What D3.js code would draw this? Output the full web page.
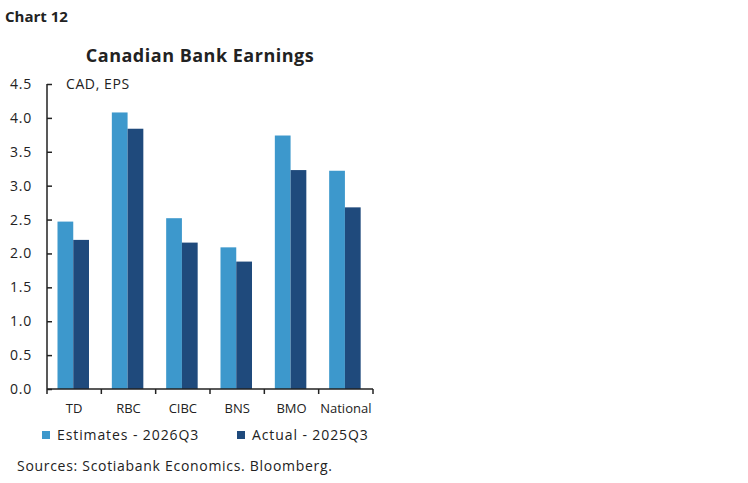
<!DOCTYPE html>
<html>
<head>
<meta charset="utf-8">
<script src="https://cdn.jsdelivr.net/npm/d3@7"></script>
<style>
  body { margin: 0; background: #fff; }
  text { font-family: "Open Sans", Lato, sans-serif; fill: #222; }
</style>
</head>
<body>
<div id="chart"></div>
<script>
const banks = ["TD", "RBC", "CIBC", "BNS", "BMO", "National"];
const estimates = [2.47, 4.08, 2.52, 2.09, 3.74, 3.22];
const actual = [2.20, 3.84, 2.16, 1.88, 3.23, 2.68];
const seriesNames = ["Estimates - 2026Q3", "Actual - 2025Q3"];
const yTicks = [0, 0.5, 1, 1.5, 2, 2.5, 3, 3.5, 4, 4.5];

const colors = ["#3d98cc", "#1f4a7c"];
const W = 748, H = 483;
const margin = {top: 84, left: 47, right: 375, bottom: 94};

const svg = d3.select("#chart").append("svg")
  .attr("width", W).attr("height", H);

svg.append("text")
  .attr("x", 5).attr("y", 22)
  .style("font-size", "15px").style("font-weight", "bold")
  .text("Chart 12");

svg.append("text")
  .attr("x", 200).attr("y", 62)
  .attr("text-anchor", "middle")
  .style("font-size", "18px").style("font-weight", "bold")
  .style("letter-spacing", "0.5px")
  .text("Canadian Bank Earnings");

const x = d3.scaleBand().domain(banks).range([margin.left, 373]);
const y = d3.scaleLinear().domain([0, 4.5]).range([389, margin.top]);
const inner = d3.scaleBand().domain([0, 1]).range([10.5, 42]);

// bars
const groups = svg.selectAll(".grp")
  .data(banks)
  .enter().append("g")
  .attr("transform", d => "translate(" + x(d) + ",0)");

[estimates, actual].forEach(function(vals, s) {
  groups.append("rect")
    .attr("x", inner(s))
    .attr("width", inner.bandwidth())
    .attr("y", (d, i) => y(vals[i]))
    .attr("height", (d, i) => y(0) - y(vals[i]))
    .attr("fill", colors[s]);
});

// y axis, ticks pointing in
const yAxis = svg.append("g")
  .attr("transform", "translate(" + margin.left + ",0)")
  .call(d3.axisRight(y).tickValues(yTicks).tickSize(5).tickFormat(d3.format(".1f")));
yAxis.select(".domain").attr("stroke", "#222").attr("stroke-width", 1.5).attr("d", "M0," + y(4.5) + "V" + y(0));
yAxis.selectAll(".tick line").attr("stroke", "#222").attr("stroke-width", 1.5);
yAxis.selectAll(".tick text")
  .attr("x", -15).attr("text-anchor", "end").attr("fill", "#333")
  .style("font-size", "14px").style("letter-spacing", "0.8px");

// x axis, ticks at category boundaries
const xAxis = svg.append("g")
  .attr("transform", "translate(0," + y(0) + ")");
xAxis.append("line")
  .attr("x1", margin.left).attr("x2", 373)
  .attr("stroke", "#222").attr("stroke-width", 1.5);
xAxis.selectAll(".bnd")
  .data(banks.concat(["end"]))
  .enter().append("line")
  .attr("x1", (d, i) => i < banks.length ? x(d) : x.range()[1])
  .attr("x2", (d, i) => i < banks.length ? x(d) : x.range()[1])
  .attr("y1", 0).attr("y2", 5)
  .attr("stroke", "#222").attr("stroke-width", 1.5);
xAxis.selectAll(".lbl")
  .data(banks)
  .enter().append("text")
  .attr("x", d => x(d) + x.bandwidth() / 2)
  .attr("y", 24)
  .attr("text-anchor", "middle")
  .style("font-size", "13px")
  .text(d => d);

svg.append("text")
  .attr("x", 66).attr("y", 89)
  .style("font-size", "14px").style("letter-spacing", "0.6px")
  .text("CAD, EPS");

// legend
const legX = [42, 237];
seriesNames.forEach(function(name, i) {
  svg.append("rect")
    .attr("x", legX[i]).attr("y", 431)
    .attr("width", 8).attr("height", 8)
    .attr("fill", colors[i]);
  svg.append("text")
    .attr("x", legX[i] + 15).attr("y", 440)
    .style("font-size", "14px").style("letter-spacing", "0.9px")
    .text(name);
});

svg.append("text")
  .attr("x", 17).attr("y", 471)
  .style("font-size", "14px").style("letter-spacing", "0.7px")
  .text("Sources: Scotiabank Economics. Bloomberg.");
</script>
</body>
</html>
